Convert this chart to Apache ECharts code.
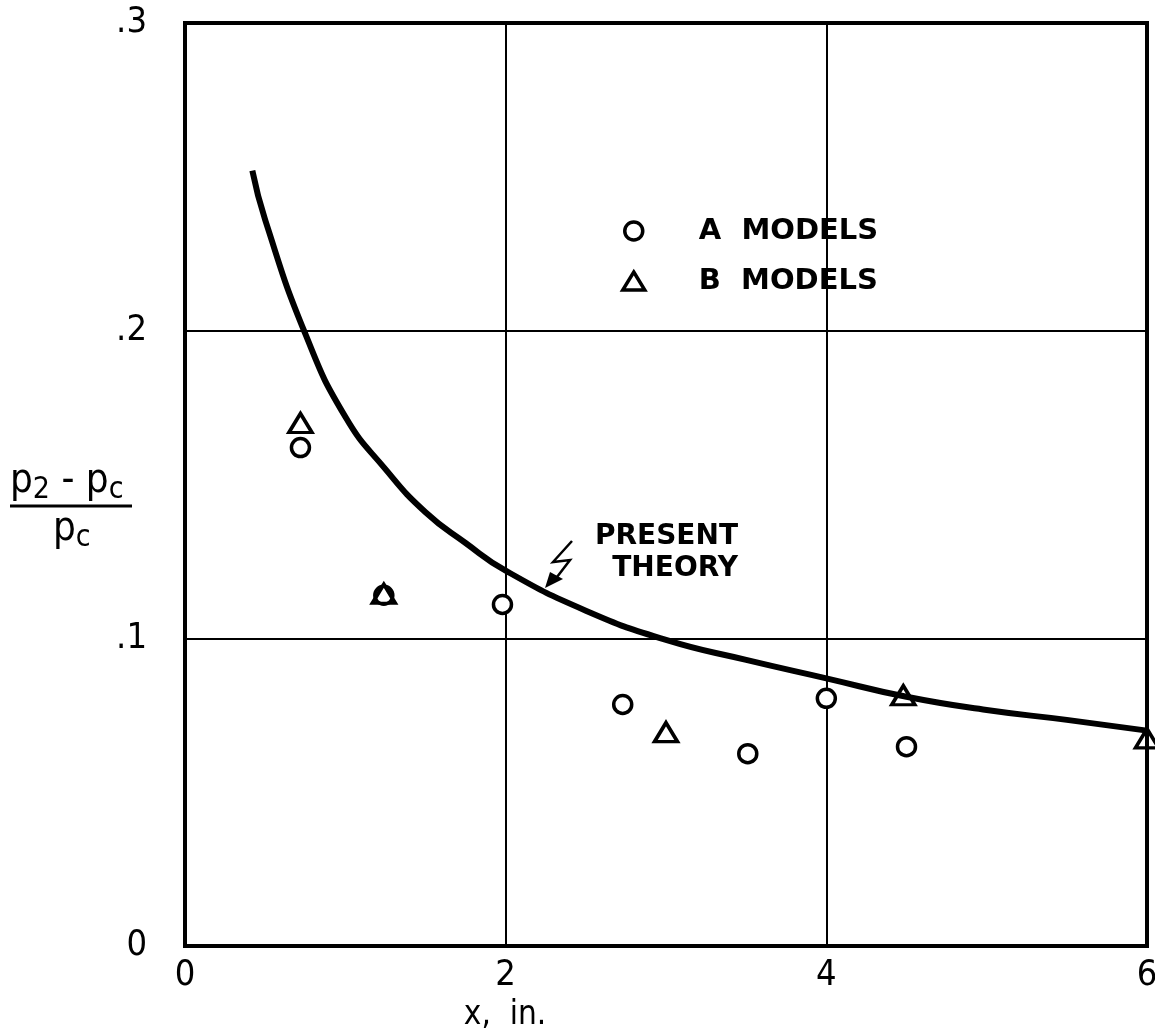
<!DOCTYPE html>
<html>
<head>
<meta charset="utf-8">
<script src="https://cdn.jsdelivr.net/npm/echarts@6/dist/echarts.min.js"></script>
<style>
html,body{margin:0;padding:0;background:#fff;}
#chart{width:1155px;height:1031px;}
</style>
</head>
<body>
<div id="chart"></div>
<script>
// Theory curve
const curveX = [0.42, 0.5, 0.75, 1.0, 1.25, 1.5, 1.75, 2.0, 2.5, 3.0, 3.5, 4.0, 4.5, 5.0, 5.5, 6.0];
const curveY = [0.252, 0.236, 0.199, 0.172, 0.155, 0.141, 0.131, 0.122, 0.109, 0.0995, 0.093, 0.087, 0.081, 0.0767, 0.0735, 0.070];
// A models (circles)
const aX = [0.72, 1.24, 1.98, 2.73, 3.51, 4.0, 4.5];
const aY = [0.162, 0.114, 0.111, 0.0785, 0.0625, 0.0805, 0.0648];
// B models (triangles)
const bX = [0.72, 1.24, 3.0, 4.48, 6.0];
const bY = [0.170, 0.1145, 0.0695, 0.0815, 0.0675];
// ticks
const xTicks = [0, 2, 4, 6];
const yTickLabels = {0: '0', 0.1: '.1', 0.2: '.2', 0.3: '.3'};

const FONT = '"DejaVu Sans Condensed", "Liberation Sans Narrow", "DejaVu Sans", sans-serif';
const LFONT = '"DejaVu Sans", sans-serif';
const zip = (xs, ys) => xs.map((x, i) => [x, ys[i]]);

const chart = echarts.init(document.getElementById('chart'), null, {renderer: 'canvas'});
const option = {
  backgroundColor: '#fff',
  animation: false,
  grid: {left: 185, right: 8, top: 23, bottom: 85, show: true, borderColor: '#000', borderWidth: 4,
    backgroundColor: 'transparent', containLabel: false, outerBoundsMode: 'none'},
  xAxis: {
    type: 'value', min: 0, max: 6, interval: 2,
    axisLine: {show: true, lineStyle: {color: '#000', width: 4}},
    axisTick: {show: false},
    splitLine: {show: true, lineStyle: {color: '#000', width: 2}},
    axisLabel: {color: '#000', fontSize: 36, fontFamily: FONT, margin: 12,
      formatter: v => xTicks.includes(v) ? String(v) : ''},
    name: 'x,  in.', nameLocation: 'middle', nameGap: 47,
    nameTextStyle: {color: '#000', fontSize: 33, fontFamily: FONT, padding: [0, 322, 0, 0]}
  },
  yAxis: {
    type: 'value', min: 0, max: 0.3, interval: 0.1,
    axisLine: {show: true, lineStyle: {color: '#000', width: 4}},
    axisTick: {show: false},
    splitLine: {show: true, lineStyle: {color: '#000', width: 2}},
    axisLabel: {color: '#000', fontSize: 36, fontFamily: FONT, margin: 38,
      formatter: v => { const k = Math.round(v * 10) / 10; return yTickLabels[k] !== undefined ? yTickLabels[k] : ''; }}
  },
  legend: {
    data: ['A MODELS', 'B MODELS'],
    orient: 'vertical', left: 616, top: 210,
    itemWidth: 22, itemHeight: 18, itemGap: 18,
    itemStyle: {borderWidth: 3.5, borderColor: '#000', color: '#fff'},
    formatter: n => n.replace(' ', '  '),
    textStyle: {color: '#000', fontSize: 29, fontWeight: 'bold', fontFamily: LFONT, padding: [0, 0, 0, 49], lineHeight: 32},
    selectedMode: false
  },
  series: [
    {
      name: 'PRESENT THEORY', type: 'line', data: zip(curveX, curveY),
      smooth: 0.5, showSymbol: false, z: 2,
      lineStyle: {color: '#000', width: 6}
    },
    {
      name: 'A MODELS', type: 'scatter', data: zip(aX, aY), symbol: 'circle', symbolSize: 18, z: 3,
      itemStyle: {color: '#fff', borderColor: '#000', borderWidth: 3.5, opacity: 1}
    },
    {
      name: 'B MODELS', type: 'scatter', data: zip(bX, bY), symbol: 'triangle', symbolSize: [23, 19], z: 4,
      itemStyle: {color: 'rgba(255,255,255,0)', borderColor: '#000', borderWidth: 3.5, opacity: 1}
    }
  ],
  graphic: [
    // Y-axis name as fraction
    {type: 'text', left: 10, top: 462, z: 10,
      style: {text: 'p{s|2} - p{s|c}', fill: '#000', font: '40px ' + FONT,
        rich: {s: {fontSize: 30, fontFamily: FONT, fill: '#000', padding: [16, 0, 0, 0]}}}},
    {type: 'line', z: 10, shape: {x1: 10, y1: 506, x2: 132, y2: 506}, style: {stroke: '#000', lineWidth: 3}},
    {type: 'text', left: 53, top: 510, z: 10,
      style: {text: 'p{s|c}', fill: '#000', font: '40px ' + FONT,
        rich: {s: {fontSize: 30, fontFamily: FONT, fill: '#000', padding: [16, 0, 0, 0]}}}},
    // Present theory annotation
    {type: 'text', z: 10, style: {text: 'PRESENT', x: 738, y: 537, align: 'right', verticalAlign: 'middle', fill: '#000', font: 'bold 28px ' + LFONT}},
    {type: 'text', z: 10, style: {text: 'THEORY', x: 738, y: 569, align: 'right', verticalAlign: 'middle', fill: '#000', font: 'bold 28px ' + LFONT}},
    {type: 'polyline', z: 10, shape: {points: [[572, 541], [553, 562], [570, 560], [557, 577]]}, style: {stroke: '#000', lineWidth: 2.5, fill: null}},
    {type: 'polygon', z: 10, shape: {points: [[545, 588], [550, 572], [563, 579]]}, style: {fill: '#000'}}
  ]
};
chart.setOption(option);
</script>
</body>
</html>
